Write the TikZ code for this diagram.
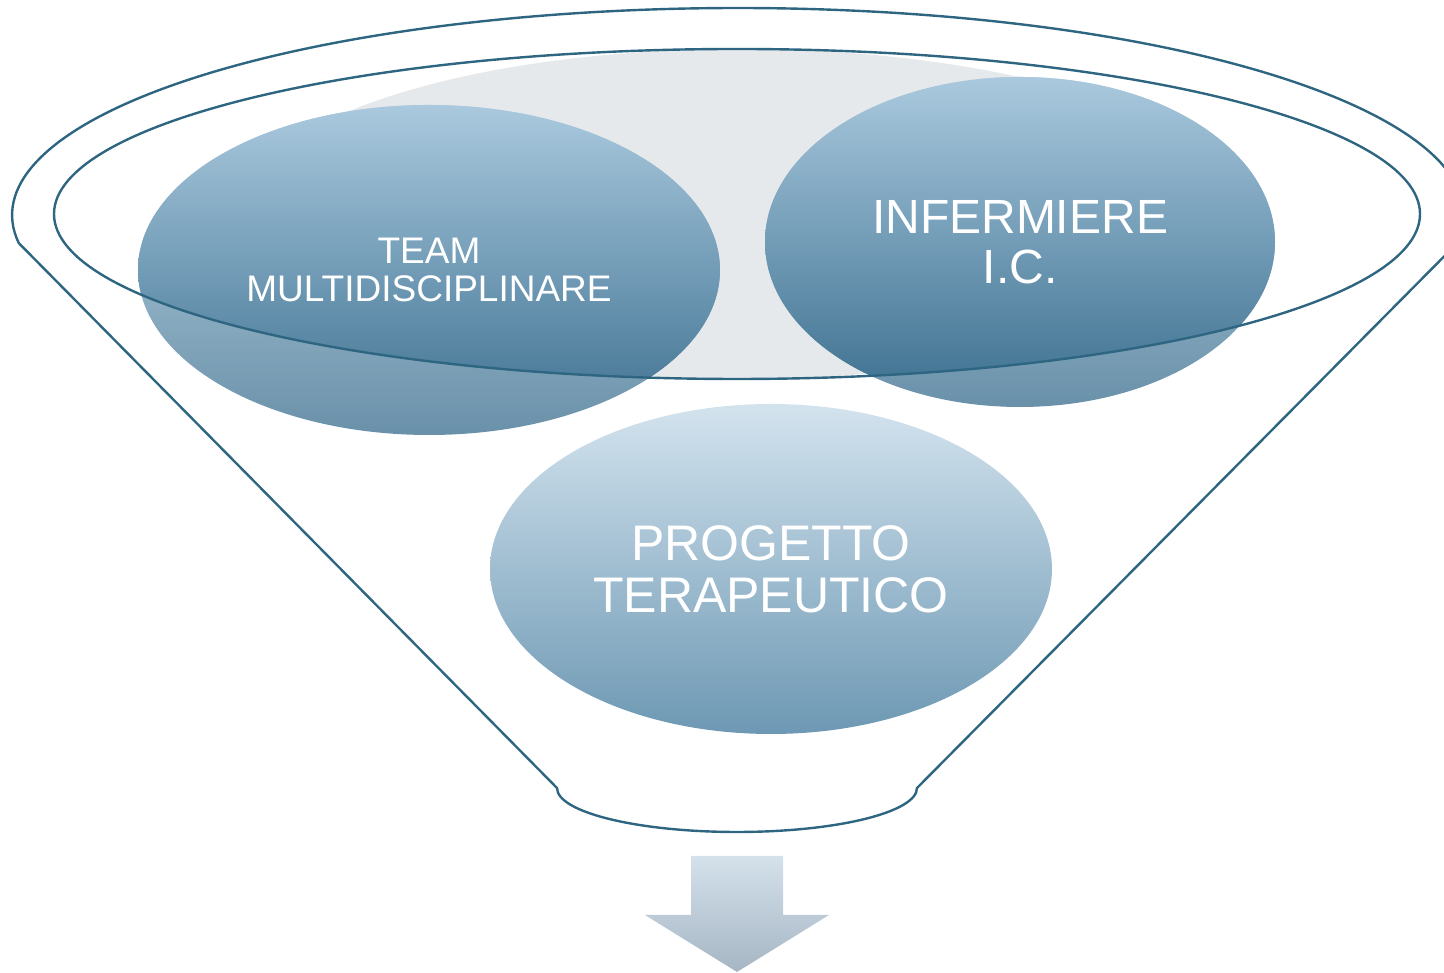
\documentclass[tikz,border=0pt]{standalone}
\usepackage{fontspec}
\setmainfont{Liberation Sans}
\usetikzlibrary{shapes.geometric}
\definecolor{funnelline}{HTML}{2E6682}
\definecolor{bubbletop}{HTML}{AAC9DE}
\definecolor{bubblebottom}{HTML}{3A6E8E}
\definecolor{resulttop}{HTML}{D3E3EE}
\definecolor{resultbottom}{HTML}{6D98B3}
\definecolor{liquid}{HTML}{E6E9EC}
\definecolor{arrowtop}{HTML}{D4E1EB}
\definecolor{arrowbottom}{HTML}{A6B6C4}

\begin{document}
\begin{tikzpicture}[x=1pt,y=1pt]
    \tikzset{bubble/.style = {shape=ellipse,inner sep=0pt,text=white,align=center,text opacity=1}}
    \tikzset{rim/.style = {draw=funnelline,line width=2.4pt}}
    \useasboundingbox (0,0) rectangle (1444,973);
    % background
    \fill[liquid] (740,759) ellipse [x radius=500, y radius=165];
    \coordinate (teamc) at (429,703);
    \coordinate (nursec) at (1020,731);
    \coordinate (planc) at (771,404);
    % inside the rim
    \begin{scope}
        \clip (737,759) ellipse [x radius=683, y radius=165];
        \path[top color=bubbletop,bottom color=bubblebottom] (teamc) ellipse [x radius=291, y radius=165];
        \path[top color=bubbletop,bottom color=bubblebottom] (nursec) ellipse [x radius=255, y radius=165];
    \end{scope}
    % vertices
    \node[bubble,top color=bubbletop,bottom color=bubblebottom,fill opacity=0.76,
          minimum width=582,minimum height=330,font=\fontsize{37}{38}\selectfont] (team) at (teamc)
          {TEAM\\MULTIDISCIPLINARE};
    \node[bubble,top color=bubbletop,bottom color=bubblebottom,fill opacity=0.76,
          minimum width=510,minimum height=330,font=\fontsize{48}{50}\selectfont] (nurse) at (nursec)
          {INFERMIERE\\I.C.};
    % funnel
    \draw[rim] (737,759) ellipse [x radius=683, y radius=165];
    \draw[rim] (1457.3,729.9) arc[start angle=-7.8, end angle=187.8, x radius=726, y radius=207]
        -- (557,185) arc[start angle=180, end angle=360, x radius=180, y radius=44] -- cycle;
    \node[bubble,top color=resulttop,bottom color=resultbottom,
          minimum width=562,minimum height=330,font=\fontsize{50}{52}\selectfont] (plan) at (planc)
          {PROGETTO\\TERAPEUTICO};
    % arrow
    \path[top color=arrowtop,bottom color=arrowbottom] (691,117) -- (783,117) -- (783,58) -- (829,58)
        -- (737,1) -- (645,58) -- (691,58) -- cycle;
\end{tikzpicture}
\end{document}
